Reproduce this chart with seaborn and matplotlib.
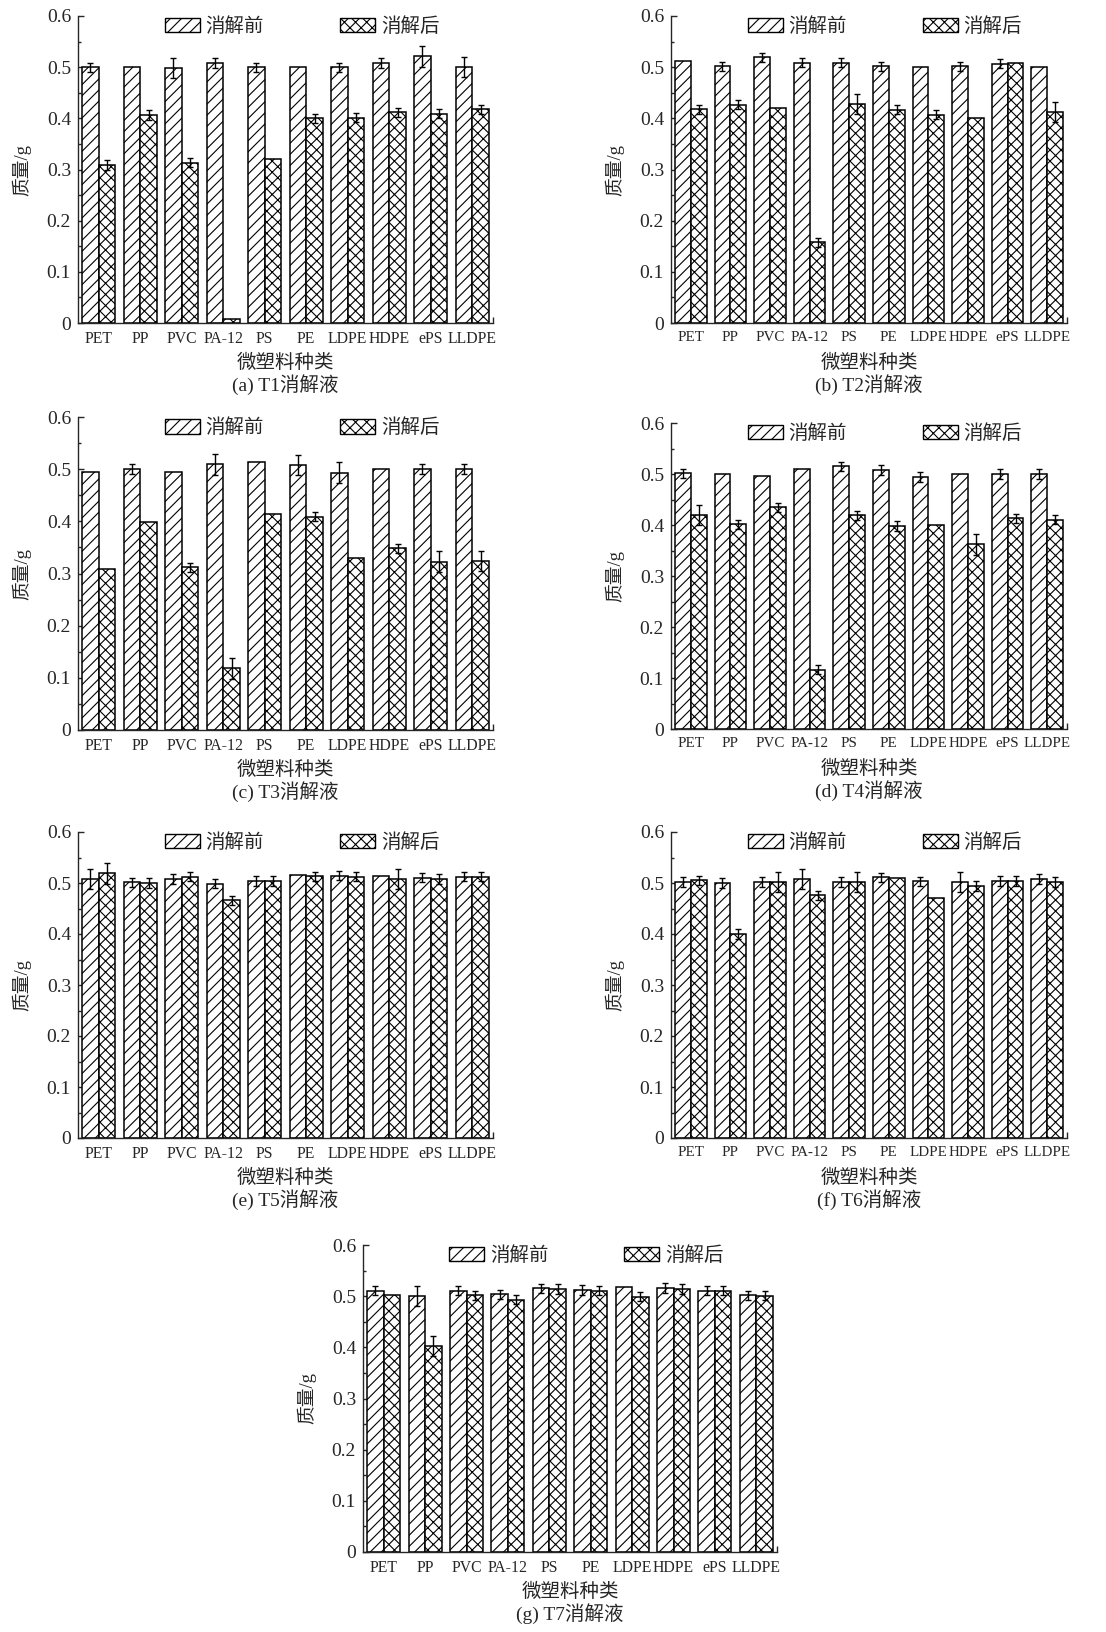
import numpy as np
import pandas as pd
import matplotlib
matplotlib.use("Agg")
import matplotlib.pyplot as plt
from matplotlib.patches import Patch
import seaborn as sns

categories = ["PET", "PP", "PVC", "PA-12", "PS", "PE", "LDPE", "HDPE", "ePS", "LLDPE"]
groups = ["消解前", "消解后"]
yticks = [0, 0.1, 0.2, 0.3, 0.4, 0.5, 0.6]
ytick_labels = ["0", "0.1", "0.2", "0.3", "0.4", "0.5", "0.6"]

# T1
t1_before = [0.500, 0.500, 0.498, 0.508, 0.500, 0.500, 0.500, 0.508, 0.521, 0.500]
t1_before_err = [0.009, 0, 0.02, 0.009, 0.009, 0, 0.009, 0.009, 0.02, 0.02]
t1_after = [0.309, 0.406, 0.313, 0.007, 0.320, 0.400, 0.401, 0.412, 0.409, 0.418]
t1_after_err = [0.009, 0.01, 0.009, 0, 0, 0.009, 0.009, 0.009, 0.009, 0.009]
# T2
t2_before = [0.512, 0.502, 0.519, 0.509, 0.509, 0.502, 0.500, 0.502, 0.507, 0.500]
t2_before_err = [0, 0.009, 0.009, 0.009, 0.009, 0.009, 0, 0.009, 0.009, 0]
t2_after = [0.418, 0.427, 0.421, 0.158, 0.428, 0.417, 0.407, 0.401, 0.508, 0.412]
t2_after_err = [0.009, 0.009, 0, 0.009, 0.02, 0.009, 0.009, 0, 0, 0.02]
# T3
t3_before = [0.495, 0.500, 0.495, 0.509, 0.514, 0.508, 0.493, 0.500, 0.500, 0.500]
t3_before_err = [0, 0.009, 0, 0.02, 0, 0.02, 0.02, 0, 0.009, 0.009]
t3_after = [0.308, 0.399, 0.312, 0.118, 0.415, 0.409, 0.330, 0.348, 0.323, 0.324]
t3_after_err = [0, 0, 0.009, 0.02, 0, 0.009, 0, 0.009, 0.02, 0.02]
# T4
t4_before = [0.501, 0.500, 0.496, 0.510, 0.515, 0.508, 0.494, 0.500, 0.500, 0.500]
t4_before_err = [0.009, 0, 0, 0, 0.009, 0.009, 0.009, 0, 0.009, 0.009]
t4_after = [0.420, 0.401, 0.435, 0.116, 0.419, 0.398, 0.400, 0.362, 0.413, 0.410]
t4_after_err = [0.02, 0.009, 0.009, 0.009, 0.009, 0.009, 0, 0.02, 0.009, 0.009]
# T5
t5_before = [0.508, 0.501, 0.508, 0.499, 0.504, 0.515, 0.514, 0.514, 0.510, 0.512]
t5_before_err = [0.02, 0.009, 0.009, 0.009, 0.009, 0, 0.009, 0, 0.009, 0.009]
t5_after = [0.519, 0.500, 0.512, 0.466, 0.504, 0.513, 0.512, 0.508, 0.508, 0.512]
t5_after_err = [0.02, 0.009, 0.009, 0.009, 0.009, 0.009, 0.009, 0.02, 0.009, 0.009]
# T6
t6_before = [0.502, 0.500, 0.502, 0.508, 0.502, 0.511, 0.503, 0.502, 0.504, 0.508]
t6_before_err = [0.009, 0.009, 0.009, 0.02, 0.009, 0.009, 0.009, 0.02, 0.009, 0.009]
t6_after = [0.505, 0.400, 0.502, 0.476, 0.502, 0.510, 0.471, 0.494, 0.504, 0.502]
t6_after_err = [0.009, 0.009, 0.02, 0.009, 0.02, 0, 0, 0.009, 0.009, 0.009]
# T7
t7_before = [0.511, 0.500, 0.511, 0.504, 0.515, 0.512, 0.518, 0.516, 0.511, 0.502]
t7_before_err = [0.009, 0.02, 0.009, 0.009, 0.009, 0.009, 0, 0.009, 0.009, 0.009]
t7_after = [0.502, 0.403, 0.502, 0.493, 0.514, 0.511, 0.499, 0.514, 0.511, 0.501]
t7_after_err = [0, 0.02, 0.009, 0.009, 0.009, 0.009, 0.009, 0.009, 0.009, 0.009]

captions = ["(a) T1消解液", "(b) T2消解液", "(c) T3消解液", "(d) T4消解液",
            "(e) T5消解液", "(f) T6消解液", "(g) T7消解液"]

panels = [
    (t1_before, t1_before_err, t1_after, t1_after_err),
    (t2_before, t2_before_err, t2_after, t2_after_err),
    (t3_before, t3_before_err, t3_after, t3_after_err),
    (t4_before, t4_before_err, t4_after, t4_after_err),
    (t5_before, t5_before_err, t5_after, t5_after_err),
    (t6_before, t6_before_err, t6_after, t6_after_err),
    (t7_before, t7_before_err, t7_after, t7_after_err),
]

# axes boxes in pixels: left, right, top, bottom
boxes = [
    (78, 493, 16, 323), (671, 1067, 16, 323),
    (78, 493, 417, 730), (671, 1067, 423, 729),
    (78, 493, 832, 1138), (671, 1067, 832, 1138),
    (363, 777, 1245, 1552),
]

sns.set_style("ticks")
plt.rcParams["font.family"] = ["Liberation Serif", "Noto Sans CJK SC"]
plt.rcParams["hatch.linewidth"] = 0.8
plt.rcParams["hatch.color"] = "black"
plt.rcParams["axes.linewidth"] = 1.0

W, H = 1106, 1632
fig = plt.figure(figsize=(W / 100, H / 100), dpi=100)
hatches = ["///", "xxx"]

for (before, before_err, after, after_err), cap, (l, r, t, b) in zip(panels, captions, boxes):
    ax = fig.add_axes([l / W, 1 - b / H, (r - l) / W, (b - t) / H])
    df = pd.DataFrame({
        "材料": categories * 2,
        "状态": [groups[0]] * len(categories) + [groups[1]] * len(categories),
        "质量": before + after,
    })
    sns.barplot(data=df, x="材料", y="质量", hue="状态", order=categories,
                hue_order=groups, palette=["white", "white"], saturation=1,
                edgecolor="black", linewidth=1.1, errorbar=None, width=0.8,
                legend=False, ax=ax)
    for cont, hatch, errs in zip(ax.containers, hatches, [before_err, after_err]):
        xs, ys, es = [], [], []
        for p, e in zip(cont, errs):
            p.set_hatch(hatch)
            if e > 0:
                xs.append(p.get_x() + p.get_width() / 2)
                ys.append(p.get_height())
                es.append(e)
        ax.errorbar(xs, ys, yerr=es, fmt="none", ecolor="black",
                    elinewidth=1, capsize=2.5, capthick=1, zorder=5)

    w = r - l
    h = b - t
    ax.set_xlim(-0.5, 9.5)
    ax.set_ylim(0, 0.6)
    ax.set_yticks(yticks)
    ax.set_yticklabels(ytick_labels)
    ax.set_yticks(np.arange(0.05, 0.6, 0.1), minor=True)
    ax.set_xticks([9.5], minor=True)
    ax.tick_params(axis="y", which="major", direction="in", length=4, width=1,
                   labelsize=14, pad=5)
    ax.tick_params(axis="y", which="minor", direction="in", length=2, width=1)
    ax.tick_params(axis="x", which="major", length=0,
                   labelsize=11.3 if w > 405 else 10.8, pad=6)
    ax.tick_params(axis="x", which="minor", direction="in", length=4, width=1)
    sns.despine(ax=ax)

    ax.set_xlabel("")
    ax.set_ylabel("")
    ax.text(-56 / w, 0.5, "质量/g", rotation=90, ha="center", va="center",
            fontsize=13.5, transform=ax.transAxes)
    ax.text(0.5, -40 / h, "微塑料种类", ha="center", va="center",
            fontsize=14, transform=ax.transAxes)
    ax.text(0.5, -62 / h, cap, ha="center", va="center",
            fontsize=14, transform=ax.transAxes)

    handles = [Patch(facecolor="white", edgecolor="black", hatch=hatches[0], linewidth=1),
               Patch(facecolor="white", edgecolor="black", hatch=hatches[1], linewidth=1)]
    ax.legend(handles, groups, ncol=2, loc="center", bbox_to_anchor=(0.54, 0.965),
              frameon=False, fontsize=14, handlelength=1.8, handleheight=0.75,
              handletextpad=0.3, columnspacing=3.9, borderpad=0.2)

fig.savefig("out.png", dpi=100)
